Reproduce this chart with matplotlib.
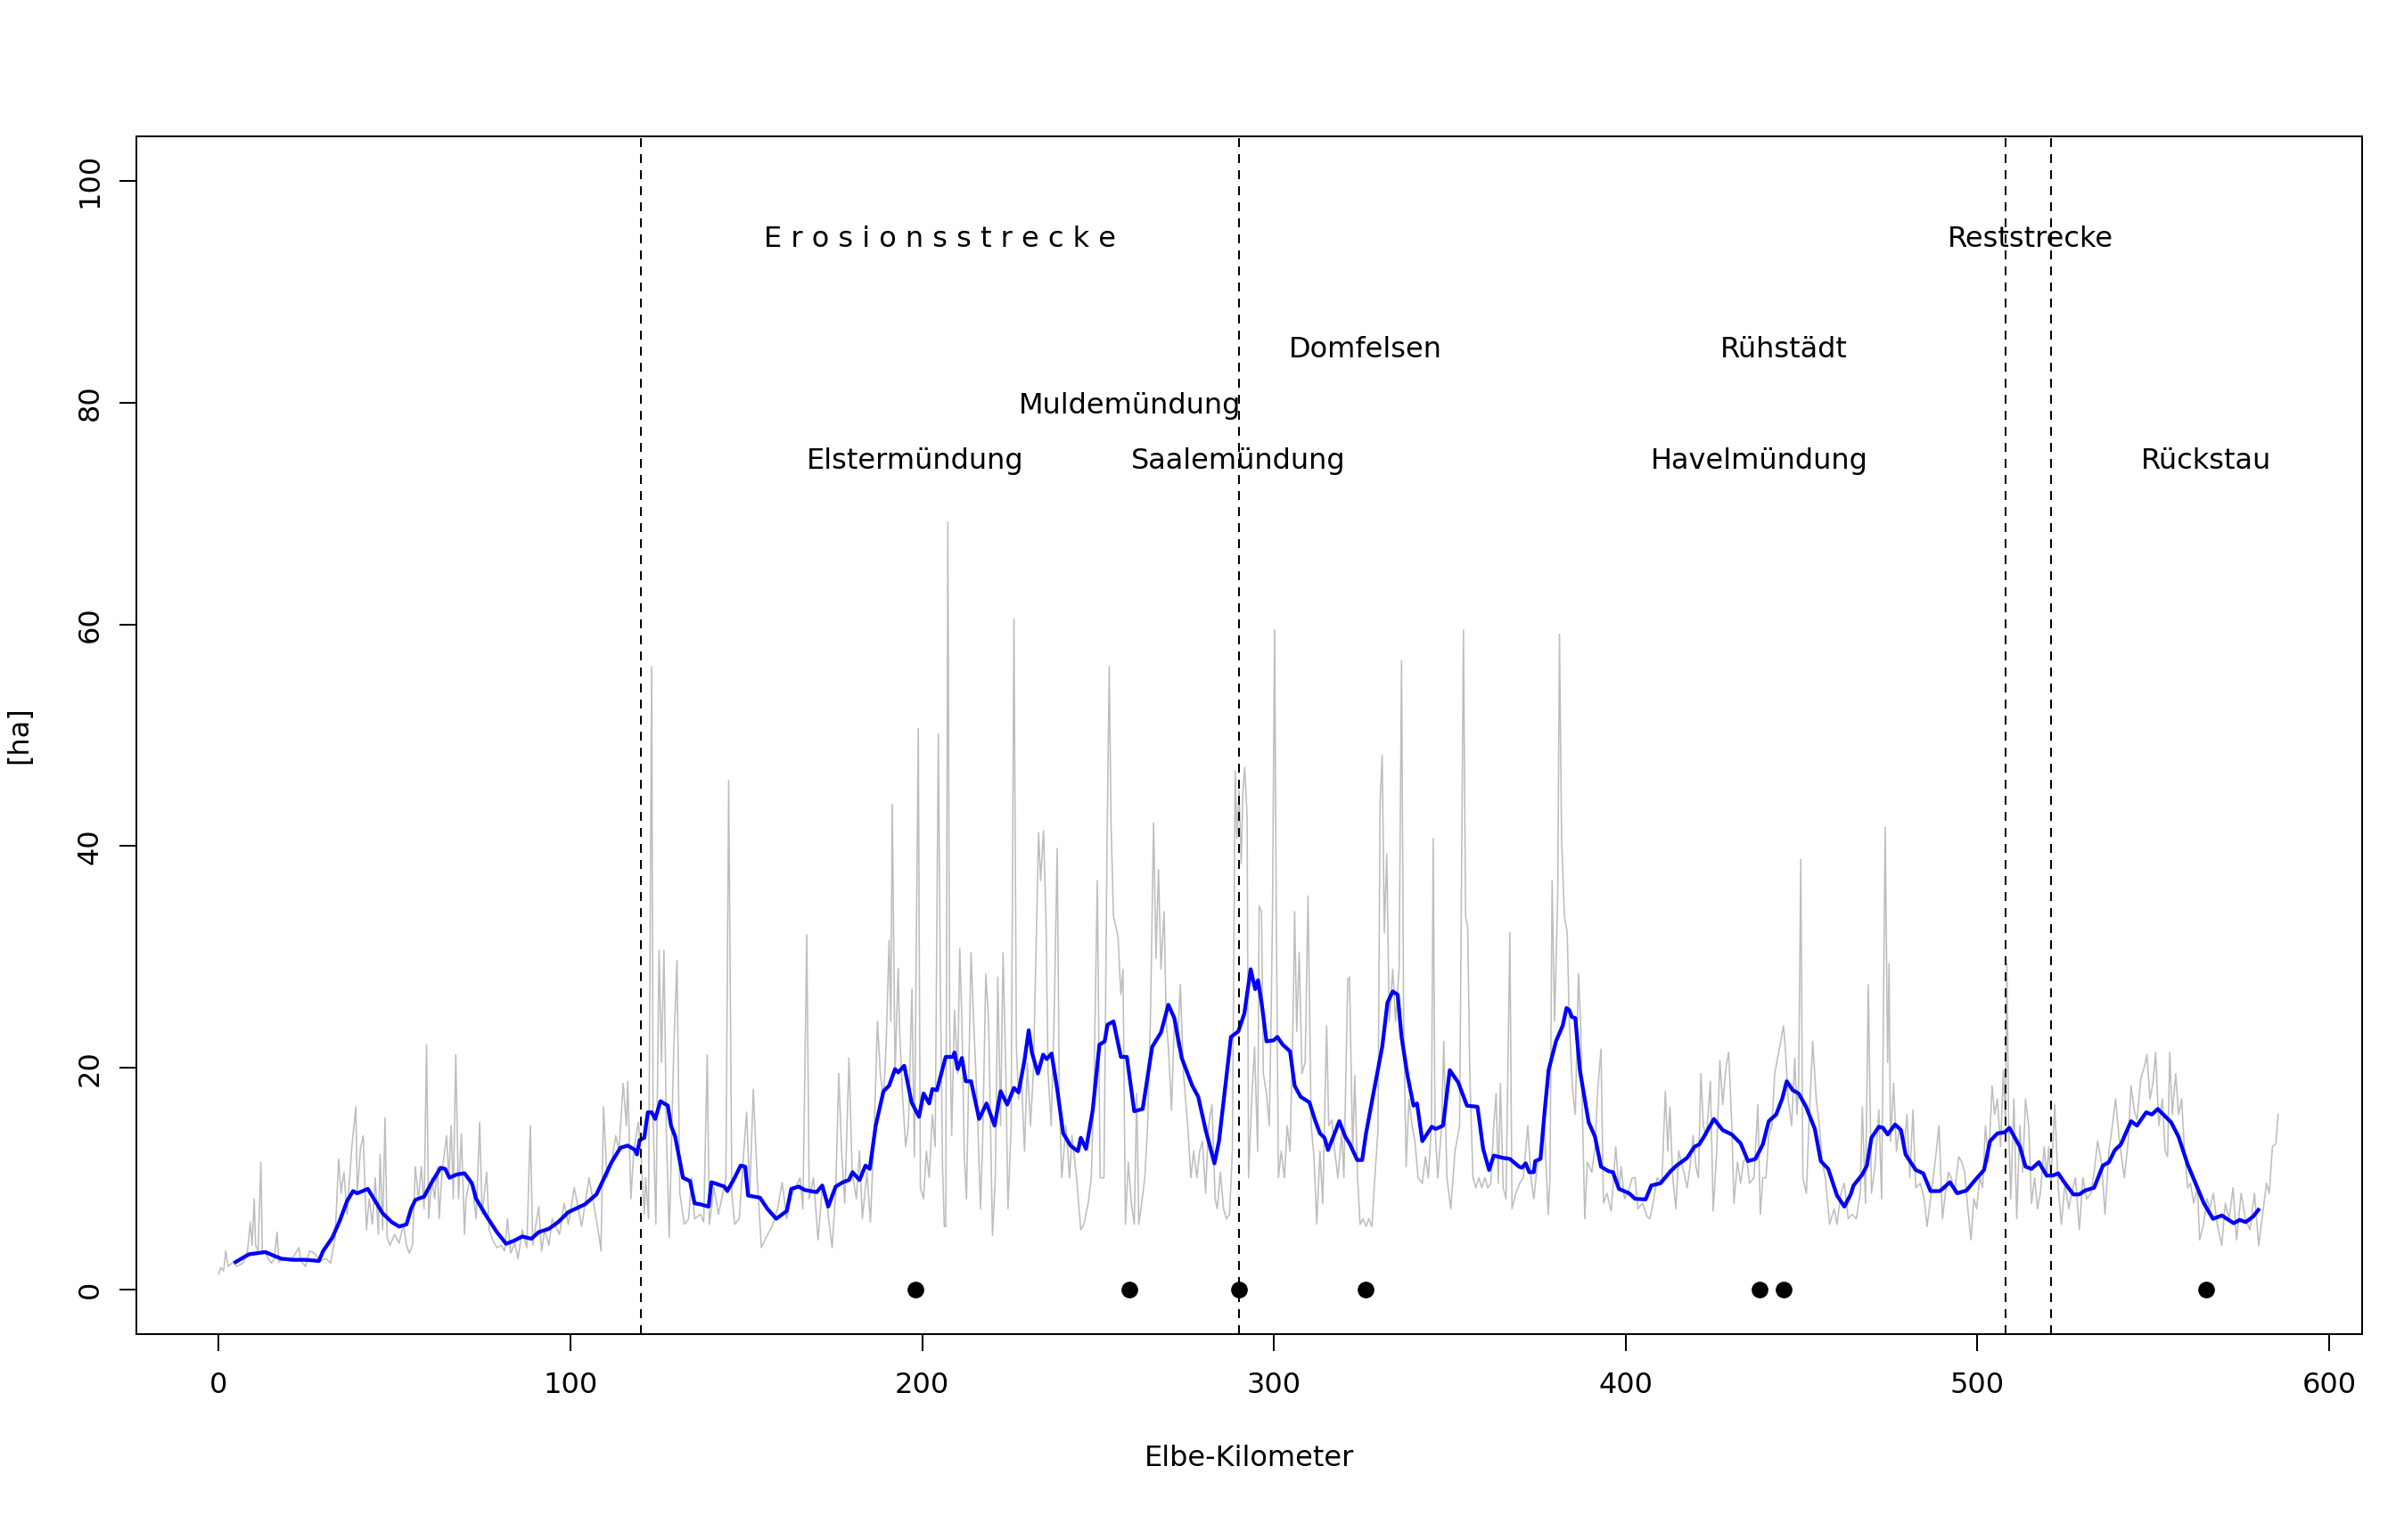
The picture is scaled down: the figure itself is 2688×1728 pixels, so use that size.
import matplotlib
matplotlib.use("Agg")
import matplotlib.pyplot as plt

# grey: raw area per km (sparse)
grey_km = [
    0.0, 0.6, 1.4, 2.0, 2.7, 4.0, 5.2, 6.9, 8.2, 9.0, 9.5, 10.1, 10.5, 11.2, 12.0, 12.4, 13.3, 14.1, 15.0, 15.8,
    16.6, 17.1, 18.3, 20.4, 21.3, 22.8, 23.4, 24.7, 25.9, 27.2, 28.9, 30.6, 31.8, 33.1, 34.1, 34.8, 35.6, 36.5, 37.8, 39.0,
    39.4, 40.3, 41.1, 42.0, 42.8, 43.7, 44.5, 45.4, 45.9, 46.6, 47.3, 47.9, 48.7, 50.0, 51.3, 52.5, 53.4, 54.2, 55.1, 55.9,
    56.8, 57.6, 58.4, 59.1, 59.7, 60.6, 61.4, 62.2, 62.7, 63.5, 64.8, 65.4, 66.1, 66.7, 67.4, 68.2, 69.0, 69.9, 70.3, 71.5,
    72.4, 73.2, 74.2, 74.9, 76.2, 76.9, 77.9, 79.1, 80.4, 81.3, 82.1, 83.0, 84.2, 85.1, 86.3, 87.6, 88.6, 89.3, 90.1, 91.0,
    91.8, 92.7, 93.9,
    94.8, 96.9, 98.2, 99.4, 101.1, 103.2, 105.3, 106.6, 108.3, 108.7, 109.4, 110.4, 111.7, 112.9, 113.8, 115.0, 115.9, 116.3, 117.2, 118.0,
    119.3, 120.1, 121.0, 121.4, 122.2, 123.1, 123.5, 124.3, 125.2, 125.9, 126.6, 127.3, 128.1, 129.4, 130.3, 131.1, 132.4, 133.6, 134.5, 135.3,
    137.0, 137.9, 138.9, 139.5, 140.8, 142.1, 143.3, 144.2, 145.0, 145.9, 146.7, 148.0, 149.3, 150.1, 151.0, 152.0, 153.1, 154.3, 155.6, 157.3,
    158.9, 160.2, 161.5, 162.8, 164.0, 165.3, 166.1, 167.2, 167.9, 169.1, 170.4, 171.6, 172.9, 174.4, 175.4, 176.3, 177.1, 178.0, 179.2, 180.1,
    181.3, 182.2, 183.0, 184.3, 185.3, 186.4, 187.3, 188.1, 189.0, 189.8, 190.6, 191.1, 191.5, 192.3, 193.2,
    193.6, 194.4, 195.3, 196.1, 197.1, 197.8, 198.9, 199.5, 200.4, 201.2, 202.0, 202.9, 203.7, 204.6, 205.2, 205.8, 206.3, 206.7, 207.3, 207.8,
    208.4, 209.2, 210.1, 210.7, 211.3, 212.0, 212.6, 213.9, 214.7, 215.6, 216.6, 217.2, 218.1, 218.9, 220.0, 220.8, 221.5, 222.3, 223.0, 223.8,
    224.4, 225.3, 226.1, 226.8, 227.4, 228.2, 229.1, 229.9, 230.8, 231.6, 232.6, 233.1, 233.7, 234.5, 235.2, 235.8, 236.7, 237.5, 238.4, 239.0,
    239.7, 240.9, 241.9, 242.6, 243.9, 245.1, 246.0, 247.2, 248.1, 248.9, 249.8, 250.6, 251.7, 252.6, 253.2, 253.7, 254.4, 255.1, 255.7, 256.5,
    257.1, 257.8, 258.6, 259.5, 260.3, 261.0, 261.6, 262.4, 263.3, 264.1, 264.9, 265.8, 266.5, 267.2, 267.9, 268.8, 269.4, 270.0, 270.9, 271.7,
    272.6, 273.4, 274.3, 275.5, 276.4, 277.2, 278.1, 278.9, 279.7, 280.6, 281.4, 282.4, 283.3, 283.9, 284.8, 285.7, 286.5, 287.4, 288.2, 289.0,
    289.5, 290.1, 290.7, 291.2, 291.7,
    292.4, 292.8, 293.7, 294.5, 295.4, 295.8, 296.5, 297.0, 297.9, 298.7, 299.2, 299.6, 300.2, 300.7, 301.3, 302.1, 303.0, 303.8, 304.6, 305.5,
    305.9, 306.5, 307.2, 308.0, 308.9, 309.7, 310.6, 311.4, 312.2, 313.1, 313.9, 315.0, 315.6, 316.5, 317.3, 318.2, 319.3, 319.9, 321.0, 321.5,
    322.4, 323.0, 323.8, 324.5, 325.3, 326.2, 327.0, 327.9, 328.7, 329.6, 330.2, 330.8, 331.4, 332.1, 332.8, 333.8, 334.6, 335.6, 336.3, 336.9,
    337.6, 338.4, 339.3, 340.1, 341.0, 342.2, 343.1, 343.9, 344.8, 345.3, 345.8, 346.6, 347.7, 348.3, 349.2, 350.3, 351.5, 352.8, 353.9, 354.5,
    355.1, 355.7, 356.6, 357.4, 358.3, 359.1, 360.0, 360.8, 361.7, 362.5, 363.2, 363.8, 364.4, 365.2, 366.0, 367.1, 367.7, 368.8, 369.9, 370.9,
    372.2, 373.1, 373.9, 375.0, 376.0, 376.9, 378.0, 378.5, 379.1, 379.8, 380.7, 381.2, 381.8, 382.6, 383.4, 384.0, 384.9, 385.7, 386.6, 387.2,
    387.8, 388.4, 389.1, 390.4,
    391.3, 392.1, 393.0, 393.7, 394.7, 395.9, 397.2, 398.1, 398.7, 399.7, 400.6, 401.9, 402.7, 403.5, 404.8, 406.1, 406.9, 407.8, 409.0, 410.3,
    411.3, 412.0, 412.6, 413.4, 414.3, 415.1, 416.2, 417.5, 418.3, 419.2, 420.0, 420.7, 421.4, 422.1, 423.0, 424.1, 424.9, 425.9, 426.8, 427.6,
    428.5, 429.3, 430.2, 430.8, 431.8, 432.7, 433.5, 434.4, 435.2, 436.5, 437.6, 438.3, 439.0, 439.9, 440.7, 441.6, 442.4, 443.2, 444.1, 444.9,
    445.5, 446.2, 447.2, 448.1, 448.7, 449.2, 449.8, 450.4, 451.4, 452.1, 453.2, 454.2, 455.1, 455.9, 456.8, 458.0, 459.3, 460.1, 461.2, 462.2,
    463.3, 464.4, 465.6, 466.7, 467.3, 468.2, 469.0, 469.9, 470.9, 472.0, 472.8, 473.8, 474.5, 474.9, 475.3, 476.2, 477.0, 477.9, 479.1, 480.0,
    480.8, 481.7, 482.5, 483.8, 484.9, 485.7, 486.7, 488.0, 489.1,
    490.1, 490.9, 491.8, 492.6, 493.5, 494.7, 495.6, 496.4, 497.3, 498.2, 499.0, 499.8, 500.7, 501.5, 502.3, 503.2, 504.2, 504.9, 505.7, 506.6,
    507.4, 508.0, 508.4, 508.9, 509.5, 510.4, 511.2, 512.1, 512.9, 513.7, 514.6, 515.4, 516.3, 517.1, 517.9, 519.0, 519.7, 520.3, 520.9, 522.0,
    523.0, 523.9, 524.9, 526.0, 526.8, 527.9, 529.0, 530.0, 531.1, 532.3, 533.2, 534.2, 535.3, 536.3, 537.4, 538.2, 539.3, 540.4, 541.8, 542.9,
    543.7, 544.6, 545.4, 546.5, 547.4, 548.2, 549.1, 549.9, 550.7, 551.6, 552.6, 553.4, 554.1, 554.7, 555.4, 556.4, 557.2, 558.1, 558.9, 559.8,
    560.6, 561.5, 562.6, 563.2, 564.3, 565.3, 566.1, 567.1, 568.2, 569.5, 570.5, 571.6, 572.7, 573.7, 575.0, 576.2, 577.5, 578.8, 580.0, 581.3,
    582.2, 583.0, 583.9, 584.9, 585.5,
]
grey_ha = [
    1.4, 2.0, 1.7, 3.5, 2.1, 2.5, 2.1, 2.4, 3.5, 6.1, 4.0, 8.2, 4.0, 3.5, 11.5, 3.5, 3.3, 2.8, 2.4, 2.8,
    5.2, 2.5, 2.8, 2.6, 3.0, 3.8, 2.6, 2.1, 3.5, 3.3, 2.6, 2.8, 2.4, 4.7, 11.8, 8.7, 10.6, 6.8, 12.7, 16.5,
    8.7, 12.7, 13.9, 5.4, 8.2, 5.9, 10.1, 5.0, 12.2, 5.4, 15.5, 4.7, 4.0, 5.0, 4.2, 5.9, 4.0, 3.3, 4.0, 11.1,
    8.2, 11.1, 7.3, 22.1, 6.4, 10.1, 8.2, 11.1, 6.4, 10.6, 13.9, 10.1, 14.8, 8.2, 21.2, 8.2, 14.1, 5.0, 8.2, 10.1,
    8.7, 6.4, 15.1, 6.8, 10.6, 5.4, 4.5, 3.8, 4.0, 3.5, 6.4, 3.3, 4.2, 2.8, 5.4, 3.8, 14.8, 4.0, 5.7, 7.5,
    3.5, 5.4, 4.0,
    6.4, 5.0, 7.8, 5.9, 9.2, 5.7, 10.1, 7.8, 4.5, 3.5, 16.5, 10.1, 11.5, 13.9, 12.5, 18.6, 14.8, 18.8, 8.2, 12.5,
    15.1, 12.0, 6.8, 10.1, 6.4, 56.2, 15.8, 5.9, 30.6, 20.5, 30.6, 13.9, 4.7, 21.9, 29.7, 8.7, 5.9, 6.4, 10.1, 6.4,
    6.8, 6.1, 21.2, 5.9, 9.2, 6.8, 8.7, 10.1, 45.9, 8.7, 5.9, 6.4, 12.5, 16.0, 8.7, 18.1, 10.1, 3.8, 4.7, 5.7,
    7.3, 9.7, 6.4, 8.5, 9.2, 10.1, 7.3, 32.0, 8.2, 10.1, 4.5, 9.2, 7.8, 3.8, 8.7, 19.5, 12.5, 7.8, 20.9, 10.6,
    8.2, 12.5, 6.4, 10.6, 6.1, 14.8, 24.2, 19.5, 17.2, 22.4, 31.5, 24.2, 43.8, 19.5, 29.0,
    23.3, 17.7, 12.9, 14.8, 27.1, 12.0, 50.6, 9.2, 8.2, 12.5, 10.1, 15.8, 12.9, 50.1, 26.6, 11.1, 5.7, 5.7, 69.2, 24.2,
    13.9, 25.2, 19.5, 30.8, 24.2, 12.0, 8.2, 30.4, 23.8, 17.2, 7.3, 13.4, 28.5, 24.2, 4.9, 10.1, 28.2, 14.8, 30.4, 19.5,
    7.3, 14.8, 60.5, 21.9, 17.2, 19.5, 12.5, 20.5, 14.8, 19.5, 33.7, 41.2, 36.9, 41.4, 33.7, 19.5, 14.8, 24.2, 39.8, 17.2,
    10.1, 14.8, 10.1, 13.9, 10.1, 5.4, 5.9, 7.8, 10.1, 19.5, 36.9, 10.1, 10.1, 41.2, 56.2, 42.1, 33.7, 32.7, 31.8, 26.6,
    28.9, 5.9, 11.5, 7.8, 5.9, 17.7, 5.9, 7.8, 10.1, 14.8, 24.2, 42.1, 29.9, 37.9, 28.9, 34.1, 24.2, 21.9, 16.2, 24.2,
    21.9, 27.5, 19.5, 14.8, 10.1, 12.5, 10.1, 12.5, 13.4, 8.7, 14.8, 16.7, 8.2, 7.3, 10.6, 7.3, 6.4, 6.8, 12.5, 46.8,
    40.7, 45.0, 38.4, 45.0, 47.1,
    42.6, 10.1, 17.2, 21.9, 12.5, 34.6, 34.1, 19.5, 17.7, 14.8, 24.2, 33.7, 59.5, 33.7, 10.1, 12.5, 10.1, 14.8, 12.5, 25.2,
    34.1, 23.3, 30.4, 19.5, 20.5, 35.5, 14.8, 12.0, 5.9, 12.5, 7.8, 23.8, 14.8, 15.3, 12.5, 10.1, 14.1, 10.1, 28.0, 28.2,
    12.5, 19.3, 10.1, 5.9, 6.4, 5.7, 6.4, 5.7, 10.1, 14.4, 44.0, 48.2, 32.2, 39.3, 24.2, 28.9, 24.2, 28.9, 56.7, 24.2,
    11.1, 17.2, 14.8, 13.4, 10.1, 9.6, 12.0, 10.1, 14.8, 40.7, 14.8, 10.1, 14.8, 22.4, 10.1, 7.3, 12.5, 14.8, 59.5, 33.7,
    32.7, 19.5, 10.1, 9.2, 10.1, 9.2, 10.1, 9.2, 9.6, 14.8, 17.7, 9.6, 18.6, 9.2, 8.2, 32.2, 7.3, 8.7, 9.6, 10.1,
    14.8, 10.1, 8.2, 11.5, 12.5, 14.8, 6.8, 10.1, 36.9, 24.2, 35.5, 59.1, 40.7, 33.7, 32.2, 24.2, 18.1, 15.8, 28.5, 24.2,
    14.8, 6.4, 11.5, 10.6,
    12.9, 18.1, 21.7, 7.8, 8.7, 7.1, 12.9, 8.9, 11.1, 8.2, 8.7, 10.1, 10.1, 7.3, 7.8, 6.6, 6.4, 7.8, 10.1, 9.6,
    17.9, 12.5, 16.5, 10.1, 7.3, 12.5, 11.1, 9.2, 11.1, 13.9, 11.1, 10.1, 19.5, 14.8, 13.9, 18.8, 7.1, 12.5, 20.7, 16.7,
    20.0, 21.4, 14.8, 7.8, 11.5, 9.6, 11.5, 12.0, 9.6, 10.1, 16.7, 6.8, 10.1, 10.1, 13.9, 14.8, 19.5, 20.9, 22.4, 23.8,
    21.4, 17.2, 14.8, 20.9, 15.8, 18.6, 38.8, 10.1, 8.7, 14.8, 22.4, 17.2, 14.8, 11.5, 10.1, 5.9, 7.3, 5.9, 8.7, 9.6,
    6.4, 6.8, 6.4, 8.7, 16.5, 7.8, 27.5, 8.7, 11.1, 16.2, 8.2, 41.7, 20.5, 29.4, 13.4, 18.6, 12.5, 14.8, 12.5, 15.8,
    10.1, 16.2, 9.2, 9.6, 8.2, 5.7, 8.2, 11.5, 14.8,
    6.4, 8.7, 10.6, 10.1, 8.7, 12.0, 11.5, 10.6, 7.3, 4.5, 8.2, 7.3, 10.1, 9.2, 14.8, 11.5, 18.4, 15.8, 17.2, 12.9,
    19.8, 14.8, 29.4, 14.8, 8.2, 17.2, 6.4, 14.8, 10.6, 17.2, 14.8, 7.8, 10.1, 7.3, 8.7, 12.9, 10.1, 12.9, 9.6, 16.7,
    9.2, 5.9, 9.6, 7.3, 8.7, 10.1, 5.4, 10.1, 8.2, 8.7, 10.6, 13.4, 11.5, 6.8, 12.5, 14.3, 17.2, 13.4, 10.1, 13.4,
    18.4, 16.2, 15.3, 19.1, 20.0, 21.2, 17.2, 18.6, 21.4, 14.8, 17.2, 12.5, 12.0, 21.4, 15.8, 19.5, 15.8, 17.2, 12.5, 9.2,
    9.6, 7.8, 9.2, 4.5, 5.9, 8.2, 7.3, 8.7, 5.9, 4.0, 7.8, 6.4, 9.2, 4.5, 8.7, 6.4, 5.4, 8.7, 4.0, 7.3,
    9.6, 8.7, 12.9, 13.2, 15.8,
]

# blue: smoothed curve
blue_km = [
    4.8, 8.6, 12.0, 13.3, 16.2, 17.9, 21.3, 24.7, 28.5, 29.7, 32.3, 34.4, 36.5, 38.2, 39.4, 42.4, 44.5, 46.6, 49.2, 51.3,
    53.4, 54.7, 55.9, 58.4, 60.6, 63.1, 64.4, 65.6, 67.7, 69.9, 72.0, 73.2, 76.2, 79.1, 81.7, 83.8, 86.3, 88.9, 91.0, 93.9,
    96.5, 99.4,
    104.1, 107.4, 111.7, 114.2, 116.3, 118.4, 118.9, 119.7, 121.0, 122.0, 123.1, 124.1, 125.6, 127.7, 128.6, 129.8, 132.0, 134.0, 135.3, 137.0,
    139.3, 140.1, 143.8, 144.6, 146.7, 148.4, 149.7, 150.5, 153.9, 156.0, 158.5, 161.5, 162.8, 164.9, 166.6, 170.0, 171.6, 173.3, 175.4, 177.5,
    179.2, 180.2, 182.2, 183.9, 185.1, 186.8, 189.0, 190.6, 192.3, 193.2,
    194.9, 197.0, 199.1, 200.4, 202.0, 202.9, 204.2, 206.7, 208.8, 209.2, 210.1, 211.3, 212.4, 213.9, 216.2, 218.3, 220.6, 222.3, 224.2, 226.1,
    227.4, 229.1, 230.3, 231.2, 232.9, 234.4, 235.4, 236.8, 238.4, 240.1, 242.2, 243.4, 244.3, 245.1, 246.6, 248.5, 250.4, 251.9, 252.7, 254.4,
    256.5, 258.2, 260.3, 262.7, 265.4, 267.9, 270.0, 271.7, 273.8, 276.8, 278.5, 280.6, 283.1, 284.4, 287.8, 289.9, 291.6,
    293.4, 294.7, 295.5, 296.5, 297.9, 300.0, 301.0, 302.5, 304.6, 305.9, 307.6, 310.1, 311.7, 313.1, 314.4, 315.4, 316.9, 318.6, 320.3, 321.5,
    323.7, 325.1, 326.2, 328.3, 330.8, 332.3, 333.8, 335.2, 336.3, 338.0, 339.7, 340.7, 342.2, 344.9, 346.0, 348.1, 350.0, 352.4, 354.9, 357.9,
    359.5, 361.2, 362.5, 365.0, 367.1, 369.7, 370.5, 371.6, 372.6, 373.9, 374.3, 375.8, 376.9, 378.1, 380.2, 382.1, 383.2, 384.0, 384.7, 385.7,
    387.0, 389.5,
    391.3, 393.0, 395.1, 396.4, 398.1, 401.0, 402.7, 405.7, 407.3, 409.9, 412.8, 414.5, 417.5, 419.6, 420.9, 422.1, 425.1, 427.6, 430.2, 432.7,
    434.8, 436.9, 439.0, 440.7, 442.8, 444.5, 445.8, 447.5, 449.2, 451.3, 453.8, 455.5, 457.6, 460.1, 462.2, 464.0, 464.8, 467.3, 468.6, 469.9,
    472.0, 473.2, 474.5, 476.6, 478.3, 479.6, 482.5, 484.6, 486.7, 489.3,
    490.1, 492.2, 494.3, 496.9, 499.4, 501.9, 503.6, 505.7, 507.8, 509.1, 512.1, 513.7, 515.4, 517.5, 519.7, 521.4, 523.0, 524.7, 527.3, 529.0,
    530.6, 533.2, 535.7, 537.4, 539.1, 540.8, 543.7, 545.4, 548.0, 549.6, 551.3, 555.1, 557.2, 559.8, 562.3, 564.4, 567.0, 569.5, 572.9, 574.6,
    576.3, 578.4, 579.9,
]
blue_ha = [
    2.5, 3.2, 3.35, 3.4, 3.0, 2.8, 2.7, 2.7, 2.6, 3.5, 4.7, 6.2, 8.0, 8.9, 8.7, 9.1, 8.0, 6.9, 6.1, 5.7,
    5.9, 7.3, 8.1, 8.4, 9.7, 11.0, 10.9, 10.1, 10.4, 10.5, 9.6, 8.2, 6.6, 5.2, 4.15, 4.4, 4.8, 4.6, 5.2, 5.5,
    6.1, 7.0,
    7.7, 8.6, 11.5, 12.8, 13.0, 12.6, 12.2, 13.5, 13.7, 16.0, 16.0, 15.4, 17.0, 16.6, 14.8, 13.8, 10.1, 9.8, 7.8, 7.7,
    7.5, 9.7, 9.3, 8.9, 10.1, 11.2, 11.1, 8.5, 8.3, 7.3, 6.4, 7.1, 9.1, 9.3, 9.0, 8.8, 9.4, 7.5, 9.3, 9.7,
    9.9, 10.6, 9.9, 11.2, 10.9, 14.8, 17.9, 18.4, 19.9, 19.6,
    20.2, 16.9, 15.6, 17.7, 16.8, 18.1, 18.0, 21.0, 21.0, 21.4, 19.9, 20.9, 18.8, 18.8, 15.4, 16.8, 14.8, 17.9, 16.7, 18.2,
    17.8, 20.7, 23.4, 21.4, 19.5, 21.2, 20.8, 21.3, 18.1, 14.1, 13.0, 12.7, 12.5, 13.7, 12.7, 16.2, 22.1, 22.4, 23.9, 24.2,
    21.0, 21.0, 16.1, 16.3, 21.9, 23.2, 25.7, 24.5, 20.9, 18.4, 17.4, 14.4, 11.4, 13.4, 22.8, 23.3, 24.9,
    28.9, 27.1, 27.9, 25.9, 22.4, 22.5, 22.8, 22.1, 21.5, 18.4, 17.4, 16.9, 15.3, 14.1, 13.7, 12.6, 13.8, 15.2, 13.8, 13.2,
    11.7, 11.7, 14.1, 17.7, 21.9, 25.9, 26.9, 26.6, 22.8, 19.3, 16.6, 16.8, 13.4, 14.7, 14.5, 14.8, 19.8, 18.7, 16.6, 16.5,
    12.7, 10.8, 12.1, 11.9, 11.8, 11.1, 11.0, 11.4, 10.6, 10.6, 11.6, 11.8, 15.8, 19.8, 22.4, 23.8, 25.4, 25.2, 24.6, 24.5,
    19.8, 15.1,
    13.8, 11.1, 10.7, 10.6, 9.1, 8.7, 8.2, 8.15, 9.4, 9.6, 10.7, 11.2, 11.9, 12.9, 13.1, 13.7, 15.4, 14.4, 14.0, 13.2,
    11.6, 11.8, 13.1, 15.2, 15.8, 17.2, 18.8, 18.0, 17.7, 16.5, 14.5, 11.6, 10.9, 8.5, 7.5, 8.6, 9.4, 10.4, 11.2, 13.7,
    14.7, 14.6, 14.0, 14.9, 14.4, 12.2, 10.8, 10.5, 8.9, 8.9,
    9.1, 9.7, 8.7, 8.95, 9.9, 10.8, 13.4, 14.1, 14.2, 14.6, 12.9, 11.1, 10.9, 11.5, 10.3, 10.3, 10.5, 9.7, 8.6, 8.6,
    8.95, 9.2, 11.2, 11.5, 12.6, 13.1, 15.2, 14.8, 16.0, 15.8, 16.3, 15.1, 13.8, 11.3, 9.4, 7.8, 6.4, 6.7, 6.0, 6.3,
    6.1, 6.6, 7.2,
]

# section boundaries and named places
borders_km = [120, 290, 508, 521]
places = ["Elstermündung", "Muldemündung", "Saalemündung", "Domfelsen", "Havelmündung", "Rühstädt", "Rückstau"]
places_km = [198, 259, 290, 326, 438, 445, 565]
places_y = [75, 80, 75, 85, 75, 85, 75]
sections = ["E r o s i o n s s t r e c k e", "Reststrecke"]
sections_km = [205, 515]

plt.rcParams["font.family"] = "DejaVu Sans"
plt.rcParams["font.size"] = 12

fig = plt.figure(figsize=(14, 9), dpi=192)
ax = fig.add_axes([153 / 2688, 231 / 1728, 2497 / 2688, 1344 / 1728])

ax.plot(grey_km, grey_ha, color="#BEBEBE", lw=0.6)
ax.plot(blue_km, blue_ha, color="blue", lw=1.6)

for b in borders_km:
    ax.axvline(b, color="black", lw=0.75, linestyle=(0, (5, 4)))

ax.plot(places_km, [0] * len(places_km), "o", color="black", markersize=6)
for name, x, y in zip(places, places_km, places_y):
    ax.text(x, y, name, ha="center", va="center_baseline")
for name, x in zip(sections, sections_km):
    ax.text(x, 95, name, ha="center", va="center_baseline")

ax.set_xlim(-23.4, 609.4)
ax.set_ylim(-4, 104)
ax.set_xticks(range(0, 601, 100))
ax.set_yticks(range(0, 101, 20))
ax.tick_params(direction="out", length=7.2, width=0.75)
ax.tick_params(axis="x", pad=8.5)
ax.tick_params(axis="y", pad=6.5)
for lab in ax.get_yticklabels():
    lab.set_rotation(90)
    lab.set_va("center")
for s in ax.spines.values():
    s.set_linewidth(0.75)

ax.set_xlabel("Elbe-Kilometer", labelpad=19)
ax.set_ylabel("[ha]", labelpad=18)

fig.savefig("out.png", dpi=192)
